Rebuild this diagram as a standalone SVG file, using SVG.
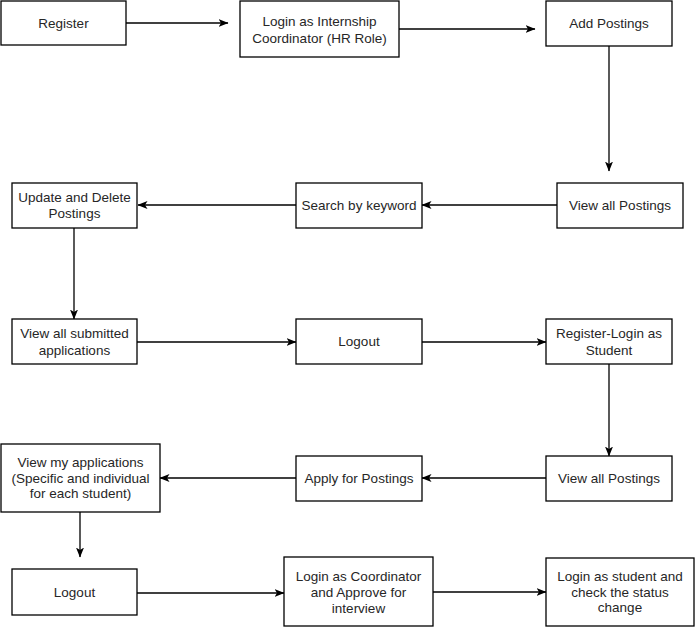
<svg xmlns="http://www.w3.org/2000/svg" width="695" height="627" viewBox="0 0 695 627">
<style>
.n rect{fill:#fff;stroke:#000;stroke-width:1.3}
.n text{font-family:"Liberation Sans",Arial,sans-serif;font-size:13.5px;fill:#262626;text-anchor:middle}
#edges path{fill:none;stroke:#000;stroke-width:1.3;marker-end:url(#ah)}
</style>
<defs>
<marker id="ah" markerUnits="userSpaceOnUse" viewBox="0 0 10 10" refX="9.5" refY="5" markerWidth="10" markerHeight="10" orient="auto">
<path d="M0,1 L10,5 L0,9 L2.5,5 Z" fill="#000"/>
</marker>
</defs>
<rect width="695" height="627" fill="#fff"/>
<g id="edges">
<path d="M126,23 H228"/>
<path d="M399,29 H535"/>
<path d="M609,46 V171"/>
<path d="M557,205 H422"/>
<path d="M296,205 H138"/>
<path d="M74,228 V319"/>
<path d="M137,342 H296"/>
<path d="M422,342 H546"/>
<path d="M609,364 V456"/>
<path d="M546,478 H422"/>
<path d="M296,478 H160"/>
<path d="M80,512 V557"/>
<path d="M137,593 H284"/>
<path d="M433,592 H546"/>
</g>
<g id="n1" class="n"><rect x="1" y="1" width="125" height="44"/><text x="63.5" y="28">Register</text></g>
<g id="n2" class="n"><rect x="240" y="1" width="159" height="56"/><text x="319.5" y="26">Login as Internship</text><text x="319.5" y="43">Coordinator (HR Role)</text></g>
<g id="n3" class="n"><rect x="546" y="1" width="126" height="45"/><text x="609" y="28">Add Postings</text></g>
<g id="n4" class="n"><rect x="557" y="183" width="126" height="45"/><text x="620" y="210">View all Postings</text></g>
<g id="n5" class="n"><rect x="296" y="183" width="126" height="45"/><text x="359" y="210">Search by keyword</text></g>
<g id="n6" class="n"><rect x="12" y="183" width="125" height="45"/><text x="74.5" y="202">Update and Delete</text><text x="74.5" y="218">Postings</text></g>
<g id="n7" class="n"><rect x="12" y="319" width="125" height="45"/><text x="74.5" y="338">View all submitted</text><text x="74.5" y="355">applications</text></g>
<g id="n8" class="n"><rect x="296" y="319" width="126" height="45"/><text x="359" y="346">Logout</text></g>
<g id="n9" class="n"><rect x="546" y="319" width="126" height="45"/><text x="609" y="338">Register-Login as</text><text x="609" y="355">Student</text></g>
<g id="n10" class="n"><rect x="546" y="456" width="126" height="45"/><text x="609" y="483">View all Postings</text></g>
<g id="n11" class="n"><rect x="296" y="456" width="126" height="45"/><text x="359" y="483">Apply for Postings</text></g>
<g id="n12" class="n"><rect x="1" y="444" width="159" height="68"/><text x="80.5" y="467">View my applications</text><text x="80.5" y="482.5">(Specific and individual</text><text x="80.5" y="498">for each student)</text></g>
<g id="n13" class="n"><rect x="12" y="569" width="125" height="46"/><text x="74.5" y="597">Logout</text></g>
<g id="n14" class="n"><rect x="284" y="557" width="149" height="69"/><text x="358.5" y="581">Login as Coordinator</text><text x="358.5" y="597">and Approve for</text><text x="358.5" y="613">interview</text></g>
<g id="n15" class="n"><rect x="546" y="558" width="148" height="68"/><text x="620" y="581">Login as student and</text><text x="620" y="596.5">check the status</text><text x="620" y="612">change</text></g>
</svg>
